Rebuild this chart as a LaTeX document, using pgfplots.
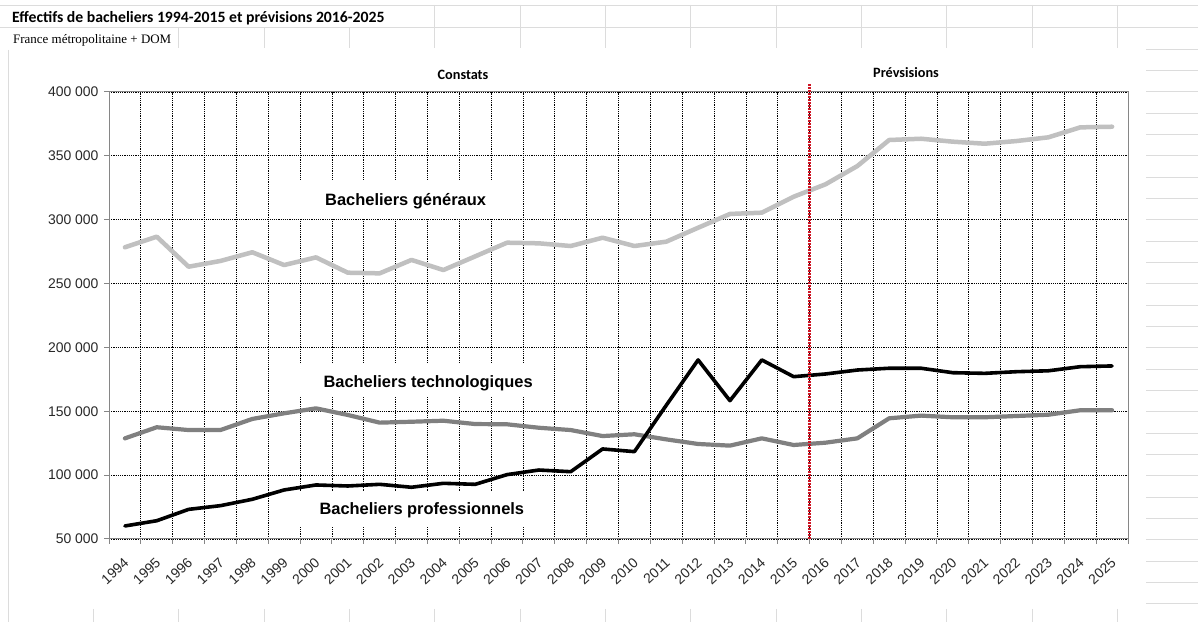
\documentclass[border=0pt]{standalone}
\usepackage{pgfplots}
\usepackage{pgfplotstable}
\pgfplotsset{compat=1.18}
\usepackage{fontspec}
\setmainfont{Liberation Sans}
\newfontfamily\carlito{Carlito}
\newfontfamily\tnr{Liberation Serif}
\definecolor{gen}{RGB}{192,192,192}
\definecolor{tech}{RGB}{128,128,128}
\definecolor{sheet}{RGB}{220,220,220}
\definecolor{axgray}{RGB}{134,134,134}
\definecolor{ticktext}{RGB}{40,40,40}
\definecolor{redl}{RGB}{205,20,35}

\pgfplotstableread{
idx year gen tech pro
0 1994 278400 128800 60200
1 1995 286700 137500 64300
2 1996 263200 135300 73200
3 1997 267700 135300 76100
4 1998 274500 144000 81100
5 1999 264500 148400 88400
6 2000 270500 152300 92300
7 2001 258500 147100 91500
8 2002 258000 141100 92800
9 2003 268500 141800 90500
10 2004 260600 142600 93600
11 2005 271300 140000 92800
12 2006 282000 139800 100400
13 2007 281500 137100 104000
14 2008 279400 135300 102700
15 2009 285900 130600 120500
16 2010 279400 132000 118400
17 2011 282800 128000 154700
18 2012 293700 124400 190200
19 2013 304500 123100 158300
20 2014 305500 128800 190200
21 2015 318000 123600 177100
22 2016 327700 125400 179200
23 2017 342000 128800 182300
24 2018 362400 144500 183700
25 2019 363400 146600 183700
26 2020 361100 145300 180200
27 2021 359500 145300 179700
28 2022 361600 146300 181000
29 2023 364500 147300 181700
30 2024 372300 150800 184900
31 2025 372800 150800 185500
}\datatable

\begin{document}
\begin{tikzpicture}[x=1bp,y=1bp]
\useasboundingbox (0,0) rectangle (1198,622);
\fill[white] (0,0) rectangle (1198,622);
% spreadsheet cell borders
\begin{scope}[sheet, line width=0.8bp]
\draw (0,617) -- (1198,617);
\draw (0,594.5) -- (1198,594.5);
\foreach \i in {5,...,13} { \draw ({8+85.35*\i},617) -- ({8+85.35*\i},594.5); }
\foreach \i in {2,...,13} { \draw ({8+85.35*\i},594.5) -- ({8+85.35*\i},574); }
\foreach \i in {0,...,13} { \draw ({8+85.35*\i},13) -- ({8+85.35*\i},0); }
\draw (8,572) -- (8,0);
\foreach \k in {0,...,26} { \draw (1146,{573-21.33*\k}) -- (1198,{573-21.33*\k}); }
\end{scope}
% titles
\node[anchor=base west, inner sep=0pt, font=\carlito\bfseries\fontsize{15.8}{18}\selectfont] at (12,599) {Effectifs de bacheliers 1994-2015 et prévisions 2016-2025};
\node[anchor=base west, inner sep=0pt, font=\tnr\fontsize{13}{15}\selectfont] at (13,578.7) {France métropolitaine + DOM};
\node[anchor=base, inner sep=0pt, font=\carlito\bfseries\fontsize{14.3}{16}\selectfont] at (463,542.7) {Constats};
\node[anchor=base, inner sep=0pt, font=\carlito\bfseries\fontsize{14.3}{16}\selectfont] at (906,544.7) {Prévsisions};

\begin{axis}[
  at={(109bp,83bp)}, anchor=south west,
  scale only axis, width=1019bp, height=447bp,
  xmin=-0.5, xmax=31.5, ymin=50000, ymax=400000,
  xtick={-0.5,0.5,...,31.5}, xticklabels={},
  extra x ticks={0,1,...,31},
  extra x tick labels={1994,1995,1996,1997,1998,1999,2000,2001,2002,2003,2004,2005,2006,2007,2008,2009,2010,2011,2012,2013,2014,2015,2016,2017,2018,2019,2020,2021,2022,2023,2024,2025},
  extra x tick style={grid=none, major tick length=0pt,
    xticklabel style={rotate=43, anchor=north east, inner sep=0.5bp, yshift=-11bp, xshift=-13bp}},
  ytick={50000,100000,...,400000},
  yticklabels={50 000,100 000,150 000,200 000,250 000,300 000,350 000,400 000},
  scaled y ticks=false,
  yticklabel style={xshift=-2bp},
  ticklabel style={font=\fontsize{14}{16}\selectfont, text=ticktext},
  grid=major,
  major grid style={black, line width=0.75bp, dash pattern=on 1.1bp off 1.1bp},
  tick pos=left, tick align=outside, major tick length=5bp,
  axis line style={axgray, line width=1bp},
  every tick/.style={axgray, line width=1bp},
  clip=false,
]
\fill[white] (axis cs:5.03,301300) rectangle (axis cs:12.03,331100);
\fill[white] (axis cs:5.03,161200) rectangle (axis cs:13.04,187800);
\fill[white] (axis cs:5.03,59400) rectangle (axis cs:13.04,86800);
\addplot[gen, line width=4.5bp, line join=round, line cap=round] table[x=idx, y=gen] {\datatable};
\addplot[tech, line width=4.2bp, line join=round, line cap=round] table[x=idx, y=tech] {\datatable};
\addplot[black, line width=3.6bp, line join=round, line cap=round] table[x=idx, y=pro] {\datatable};
\draw[redl, line width=2.4bp, dash pattern=on 1.8bp off 1.2bp] (axis cs:21.5,50000) -- (axis cs:21.5,407000);
\end{axis}

\begin{scope}[font=\bfseries\fontsize{16.5}{19}\selectfont]
\node[anchor=base west, inner sep=0pt] at (325,416.3) {Bacheliers généraux};
\node[anchor=base west, inner sep=0pt] at (323.3,234.7) {Bacheliers technologiques};
\node[anchor=base west, inner sep=0pt] at (319.3,107) {Bacheliers professionnels};
\end{scope}
\end{tikzpicture}
\end{document}
